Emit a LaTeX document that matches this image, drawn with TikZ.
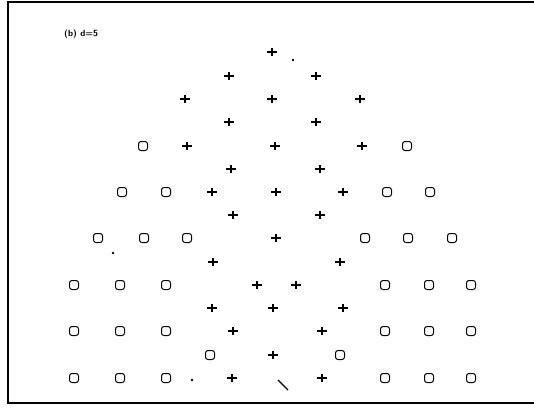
\documentclass[tikz,border=0pt]{standalone}
\begin{document}
\begin{tikzpicture}[x=1pt,y=-1pt,
  frameline/.style={line width=1.4pt},
  plusm/.style={rectangle, minimum width=10pt, minimum height=8pt, inner sep=0pt,
    path picture={\draw[line width=1.1pt]
      (path picture bounding box.north) -- (path picture bounding box.south)
      (path picture bounding box.west) -- (path picture bounding box.east);}},
  ringm/.style={rectangle, rounded corners=2.5pt, draw, line width=1pt,
    minimum width=9pt, minimum height=9pt, inner sep=0pt},
  dotm/.style={circle, fill, minimum size=2.6pt, inner sep=0pt},
  lbl/.style={font=\fontsize{9}{10}\selectfont\sffamily\bfseries, inner sep=0pt, anchor=west}]
\useasboundingbox (0,0) rectangle (534,417);
% frame (right side runs off the picture)
\coordinate (ftr) at (534,2);
\coordinate (ftl) at (8,2);
\coordinate (fbl) at (8,403);
\coordinate (fbr) at (534,403);
\draw[frameline] (ftr) -- (ftl) -- (fbl) -- (fbr);
% label
\node[lbl] (title) at (64,34) {(b) d=5};
% plus markers
\foreach \px/\py [count=\i] in {272/52,
  229/76, 316/76,
  185/99, 272/99, 360/99,
  229/122, 316/122,
  187/146, 275/146, 362/146,
  231/169, 320/169,
  212/192, 276/192, 343/192,
  233/215, 320/215,
  276/238,
  213/262, 340/262,
  257/285, 296/285,
  212/308, 273/308, 343/308,
  233/331, 322/331,
  273/355,
  232/378, 322/378}
  \node[plusm] (p\i) at (\px,\py) {};
% ring markers
\foreach \px/\py [count=\i] in {143/146, 407/146,
  122/192, 166/192, 387/192, 430/192,
  98/238, 144/238, 187/238, 365/238, 408/238, 452/238,
  74/285, 120/285, 166/285, 385/285, 429/285, 471/285,
  74/331, 120/331, 166/331, 385/331, 429/331, 471/331,
  210/355, 340/355,
  74/378, 120/378, 166/378, 385/378, 429/378, 471/378}
  \node[ringm] (o\i) at (\px,\py) {};
% stray dots
\node[dotm] (d1) at (293,60) {};
\node[dotm] (d2) at (113,253) {};
\node[dotm] (d3) at (192,380) {};
% stray stroke
\coordinate (s1) at (278,380);
\coordinate (s2) at (288,390);
\draw[line width=1.3pt] (s1) -- (s2);
\end{tikzpicture}
\end{document}
